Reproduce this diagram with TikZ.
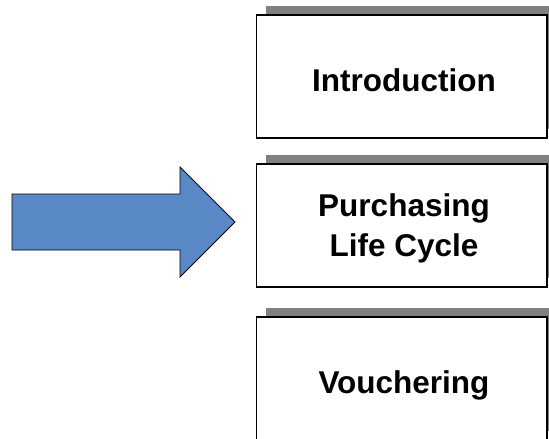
\documentclass[tikz,border=0pt]{standalone}
\usepackage{fontspec}
\setmainfont{Liberation Sans}
\definecolor{shadowgray}{RGB}{128,128,128}
\definecolor{arrowblue}{RGB}{89,136,198}
\begin{document}
\begin{tikzpicture}[x=1pt,y=-1pt,
  shadowband/.style={fill=shadowgray,draw=none},
  card/.style={draw=black,line width=1.3pt,fill=white},
  cardtext/.style={font=\fontsize{31.5}{39.5}\selectfont\bfseries,inner sep=0pt,anchor=base},
  bigarrow/.style={fill=arrowblue,draw=black,line width=0.8pt,line join=miter}]
\useasboundingbox (0,0) rectangle (549,439);
\clip (0,0) rectangle (549,439);
% box 1
\fill[shadowband] (266,6) rectangle (557,129);
\draw[card] (256.5,15) rectangle (547,138);
\node[cardtext] (intro) at (404,91) {Introduction};
% box 2
\fill[shadowband] (266,155) rectangle (557,278);
\draw[card] (256.5,164) rectangle (547,287);
\node[cardtext] (purch) at (404,216.5) {Purchasing};
\node[cardtext] (life) at (404,256) {Life Cycle};
% box 3
\fill[shadowband] (266,308) rectangle (557,431);
\draw[card] (256.5,317) rectangle (547,440);
\node[cardtext] (vouch) at (404,393) {Vouchering};
% arrow
\draw[bigarrow] (12,194) -- (180,194) -- (180,167) -- (235,222) -- (180,277) -- (180,250) -- (12,250) -- cycle;
\end{tikzpicture}
\end{document}
